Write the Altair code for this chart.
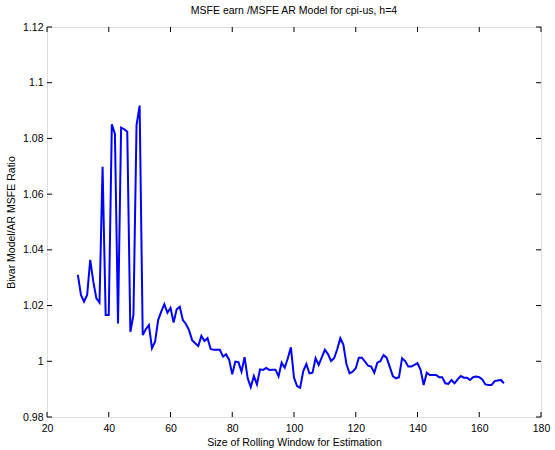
import altair as alt
import pandas as pd

window = list(range(30, 169))
ratio = [
    1.0310, 1.0238, 1.0214, 1.0238, 1.0364, 1.0286, 1.0226, 1.0211, 1.0698, 1.0166,
    1.0166, 1.0851, 1.0816, 1.0136, 1.0839, 1.0833, 1.0824, 1.0106, 1.0166, 1.0848,
    1.0918, 1.0094, 1.0115, 1.0130, 1.0047, 1.0070, 1.0148, 1.0178, 1.0205, 1.0174,
    1.0192, 1.0139, 1.0187, 1.0196, 1.0148, 1.0134, 1.0112, 1.0076, 1.0065, 1.0055,
    1.0091, 1.0073, 1.0083, 1.0044, 1.0041, 1.0041, 1.0041, 1.0017, 1.0025, 1.0005,
    0.9953, 0.9999, 0.9997, 0.9963, 1.0015, 0.9939, 0.9907, 0.9947, 0.9917, 0.9971,
    0.9969, 0.9976, 0.9969, 0.9970, 0.9970, 0.9946, 0.9995, 0.9977, 1.0011, 1.0050,
    0.9941, 0.9911, 0.9905, 0.9965, 0.9990, 0.9957, 0.9959, 1.0011, 0.9987, 1.0014,
    1.0041, 1.0026, 1.0001, 1.0011, 1.0043, 1.0083, 1.0059, 0.9989, 0.9957, 0.9963,
    0.9975, 1.0013, 1.0013, 0.9999, 0.9984, 0.9981, 0.9959, 0.9995, 1.0001, 1.0022,
    1.0013, 0.9981, 0.9947, 0.9939, 0.9943, 1.0011, 1.0001, 0.9981, 0.9981, 0.9987,
    0.9993, 0.9969, 0.9915, 0.9959, 0.9951, 0.9951, 0.9951, 0.9943, 0.9943, 0.9921,
    0.9919, 0.9933, 0.9921, 0.9935, 0.9947, 0.9941, 0.9941, 0.9933, 0.9943, 0.9945,
    0.9943, 0.9935, 0.9917, 0.9915, 0.9915, 0.9929, 0.9931, 0.9933, 0.9921,
]
x_ticks = [20, 40, 60, 80, 100, 120, 140, 160, 180]
y_ticks = [0.98, 1.00, 1.02, 1.04, 1.06, 1.08, 1.10, 1.12]

W, H = 494, 390
FONT = "Liberation Sans"

df = pd.DataFrame({"w": window, "r": ratio})
xt = pd.DataFrame({"t": x_ticks})
yt = pd.DataFrame({"t": y_ticks})

xscale = alt.Scale(domain=[20, 180], nice=False, zero=False)
yscale = alt.Scale(domain=[0.98, 1.12], nice=False, zero=False)

line = alt.Chart(df).mark_line(color="#0000FF", strokeWidth=2, clip=True).encode(
    x=alt.X("w:Q", scale=xscale,
            axis=alt.Axis(values=x_ticks, title="Size of Rolling Window for Estimation",
                          ticks=False, domain=False, grid=False, labelPadding=6,
                          labelFontSize=10.5, titleFontSize=10.5, titleFontWeight="normal",
                          titlePadding=4, labelFont=FONT, titleFont=FONT, labelColor="black",
                          titleColor="black", labelFlush=False)),
    y=alt.Y("r:Q", scale=yscale,
            axis=alt.Axis(values=y_ticks, title="Bivar Model/AR MSFE Ratio", format=".3~g",
                          ticks=False, domain=False, grid=False, labelPadding=4,
                          labelFontSize=10.5, titleFontSize=10.5, titleFontWeight="normal",
                          titlePadding=6, labelFont=FONT, titleFont=FONT, labelColor="black",
                          titleColor="black", labelFlush=False)),
)

tick_style = dict(color="black", strokeWidth=1)
xb = alt.Chart(xt).mark_rule(**tick_style).encode(
    x=alt.X("t:Q", scale=xscale), y=alt.value(H), y2=alt.value(H - 5))
xtop = alt.Chart(xt).mark_rule(**tick_style).encode(
    x=alt.X("t:Q", scale=xscale), y=alt.value(0), y2=alt.value(5))
yl = alt.Chart(yt).mark_rule(**tick_style).encode(
    y=alt.Y("t:Q", scale=yscale), x=alt.value(0), x2=alt.value(5))
yr = alt.Chart(yt).mark_rule(**tick_style).encode(
    y=alt.Y("t:Q", scale=yscale), x=alt.value(W), x2=alt.value(W - 5))

chart = alt.layer(line, xb, xtop, yl, yr).properties(
    width=W, height=H,
    title=alt.TitleParams("MSFE earn /MSFE AR Model for cpi-us, h=4", font=FONT,
                          fontSize=10.5, fontWeight="normal", color="black", offset=6),
    autosize=alt.AutoSizeParams(type="none"),
    padding={"left": 47, "top": 27, "right": 14, "bottom": 33},
).configure_view(stroke="black", strokeWidth=1.2).configure(background="white")

chart.save("out.html", embed_options={"renderer": "svg", "actions": False})
